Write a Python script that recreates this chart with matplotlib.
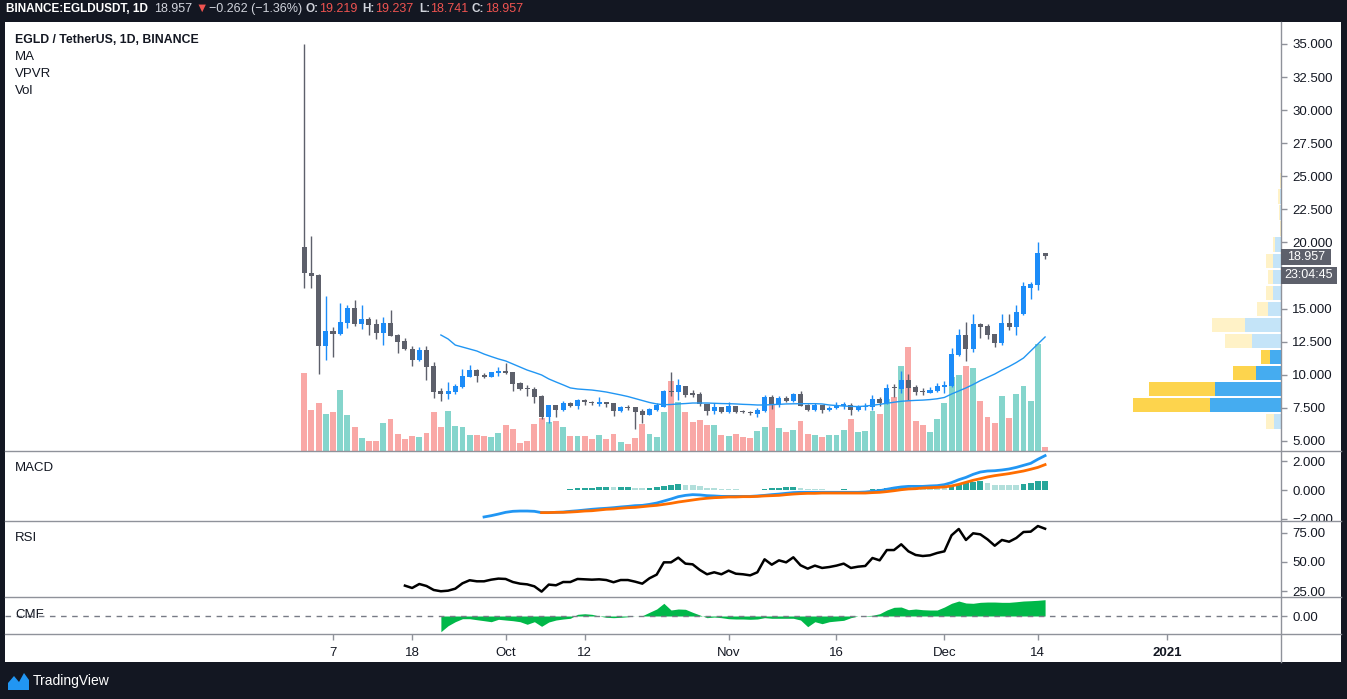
import matplotlib
matplotlib.use('Agg')
import matplotlib.pyplot as plt
from matplotlib.patches import Rectangle, Polygon
from matplotlib.lines import Line2D
from matplotlib.transforms import Bbox, TransformedBbox
import numpy as np
import pandas as pd

W, H = 1347, 699

# ---- data ----
start_date = pd.Timestamp('2020-09-03')

opens = [19.64, 17.72, 17.54, 12.18, 13.31, 13.11, 13.94, 15.05, 13.86, 14.22,
         13.84, 13.18, 13.92, 13.01, 12.55, 11.95, 11.12, 11.88, 10.67, 8.78,
         8.57, 8.70, 9.08, 9.84, 10.36, 10.01, 9.84, 10.14, 10.27, 10.21,
         9.38, 9.00, 8.93, 8.40, 6.84, 7.72, 7.34, 7.87, 7.67, 8.10,
         7.97, 7.83, 7.92, 7.87, 7.27, 7.57, 7.55, 7.29, 6.96, 7.34,
         7.59, 8.80, 8.68, 9.16, 8.60, 8.57, 7.82, 7.27, 7.57, 7.21,
         7.67, 7.29, 7.21, 7.04, 7.27, 8.32, 7.72, 8.27, 8.02, 8.57,
         7.74, 7.34, 7.70, 7.34, 7.49, 7.62, 7.74, 7.34, 7.57, 7.55,
         8.17, 7.85, 9.10, 8.95, 9.61, 9.10, 8.78, 8.65, 8.80, 9.10,
         9.18, 11.52, 13.01, 11.97, 13.84, 13.69, 13.08, 12.42, 13.92, 13.61,
         14.60, 16.58, 16.81, 19.219]
highs = [35.00, 20.49, 17.62, 15.96, 13.61, 15.45, 15.28, 15.65, 15.28, 14.35,
         14.22, 14.35, 14.90, 13.05, 12.76, 12.18, 12.08, 12.18, 10.97, 9.00,
         9.46, 9.30, 10.44, 10.77, 10.44, 10.16, 10.25, 10.59, 10.90, 10.21,
         9.46, 9.23, 9.08, 8.45, 7.72, 7.75, 8.04, 7.97, 8.17, 8.17,
         8.04, 8.35, 7.92, 7.87, 7.62, 7.72, 7.55, 7.44, 7.52, 7.89,
         8.85, 10.21, 9.66, 9.16, 8.85, 8.70, 7.82, 7.85, 7.57, 7.95,
         7.67, 7.34, 7.26, 7.47, 8.48, 8.48, 8.40, 8.40, 8.65, 8.78,
         7.77, 7.84, 7.72, 7.64, 7.95, 7.95, 7.89, 7.72, 7.89, 8.48,
         8.32, 9.31, 9.31, 10.31, 10.06, 9.20, 9.00, 9.08, 9.36, 9.50,
         12.00, 13.46, 13.99, 14.60, 13.92, 13.86, 13.10, 14.58, 14.58, 15.28,
         17.04, 17.04, 20.04, 19.237]
lows = [16.59, 16.59, 10.06, 11.12, 11.37, 13.00, 13.56, 13.69, 13.46, 13.01,
        12.71, 12.25, 12.90, 11.67, 11.90, 10.67, 11.05, 9.61, 8.27, 8.04,
        8.20, 8.57, 9.00, 9.80, 9.46, 9.76, 9.80, 9.93, 10.10, 8.78,
        8.85, 8.40, 7.89, 6.69, 6.38, 6.84, 7.29, 7.59, 7.39, 7.70,
        7.75, 7.67, 7.60, 6.91, 7.18, 7.34, 5.88, 6.38, 6.96, 7.29,
        7.59, 8.42, 8.10, 8.35, 8.32, 7.64, 6.99, 7.04, 7.09, 7.09,
        7.13, 7.09, 6.99, 6.84, 7.20, 7.44, 7.59, 7.92, 7.92, 7.64,
        7.30, 7.30, 7.09, 7.27, 7.39, 7.40, 7.00, 7.30, 7.34, 7.34,
        7.62, 7.80, 8.35, 8.60, 8.10, 8.50, 8.50, 8.60, 8.70, 8.60,
        9.10, 11.40, 11.07, 11.75, 12.80, 12.71, 12.12, 12.27, 13.39, 13.01,
        14.50, 15.73, 16.41, 18.741]
closes = [17.67, 17.49, 12.18, 13.31, 13.11, 13.99, 15.05, 13.86, 14.22, 13.77,
          13.18, 13.92, 12.93, 12.48, 11.95, 11.12, 11.88, 10.59, 8.70, 8.57,
          8.78, 9.16, 9.91, 10.36, 9.91, 9.84, 10.21, 10.27, 10.14, 9.31,
          8.93, 8.93, 8.35, 6.84, 7.70, 7.34, 7.87, 7.67, 8.10, 7.92,
          7.85, 7.97, 7.77, 7.29, 7.57, 7.50, 7.21, 6.99, 7.44, 7.70,
          8.80, 8.72, 9.23, 8.48, 8.45, 7.77, 7.29, 7.57, 7.21, 7.67,
          7.21, 7.16, 7.09, 7.34, 8.35, 7.77, 8.23, 8.02, 8.57, 7.67,
          7.34, 7.74, 7.34, 7.52, 7.72, 7.82, 7.34, 7.59, 7.64, 8.17,
          7.85, 9.00, 9.00, 9.61, 9.03, 8.70, 8.68, 8.85, 9.18, 9.26,
          11.57, 13.01, 11.97, 13.84, 13.61, 13.00, 12.42, 13.92, 13.61, 14.75,
          16.71, 16.86, 19.23, 18.957]
volumes = [78, 41, 48, 37, 39, 61, 36, 24, 13, 10,
           10, 28, 32, 17, 12, 15, 14, 18, 39, 24,
           40, 25, 24, 16, 16, 15, 14, 18, 26, 22,
           8, 10, 27, 33, 29, 30, 24, 15, 15, 15,
           12, 16, 12, 17, 9, 7, 13, 27, 17, 14,
           39, 70, 49, 39, 29, 31, 26, 26, 16, 15,
           17, 14, 13, 20, 24, 47, 23, 19, 21, 30,
           17, 16, 14, 16, 16, 21, 32, 19, 20, 40,
           37, 52, 54, 85, 104, 30, 26, 19, 32, 48,
           74, 76, 85, 83, 50, 34, 28, 55, 33, 57,
           65, 50, 107, 4]

ma_start = 19
ma20 = [13.01, 12.71, 12.25, 12.10, 11.95, 11.80, 11.57, 11.38, 11.20, 11.05,
        10.82, 10.59, 10.36, 10.18, 9.99, 9.69, 9.46, 9.24, 9.01, 8.93,
        8.89, 8.85, 8.78, 8.70, 8.59, 8.48, 8.36, 8.21, 8.06, 7.91,
        7.80, 7.74, 7.76, 7.80, 7.83, 7.87, 7.87, 7.87, 7.85, 7.83,
        7.82, 7.80, 7.77, 7.75, 7.72, 7.72, 7.75, 7.77, 7.80, 7.81,
        7.82, 7.82, 7.82, 7.80, 7.72, 7.68, 7.64, 7.62, 7.60, 7.64,
        7.70, 7.77, 7.85, 7.93, 8.00, 8.04, 8.07, 8.09, 8.13, 8.19,
        8.29, 8.55, 8.78, 9.01, 9.27, 9.56, 9.81, 10.06, 10.36, 10.63,
        10.93, 11.27, 11.80, 12.33, 12.86]

macd_start = 25
macd_line = [-1.86, -1.77, -1.66, -1.54, -1.47, -1.45, -1.45, -1.47,
             -1.56, -1.56, -1.54, -1.52, -1.47, -1.43, -1.38, -1.33, -1.29, -1.26,
             -1.22, -1.17, -1.13, -1.08, -1.06, -0.99, -0.90, -0.76, -0.62, -0.46,
             -0.37, -0.32, -0.34, -0.39, -0.41, -0.44, -0.44, -0.44, -0.44, -0.44,
             -0.41, -0.37, -0.32, -0.28, -0.23, -0.18, -0.16, -0.16, -0.16, -0.16,
             -0.16, -0.16, -0.16, -0.16, -0.16, -0.14, -0.09, -0.05, 0.05, 0.14,
             0.21, 0.25, 0.25, 0.25, 0.28, 0.30, 0.37, 0.51, 0.71, 0.87,
             1.08, 1.24, 1.31, 1.33, 1.38, 1.45, 1.56, 1.70, 1.84, 2.12, 2.37]
signal_start = 33
signal_line = [-1.56, -1.56, -1.54, -1.54, -1.52, -1.49, -1.45, -1.43, -1.38, -1.33,
               -1.31, -1.26, -1.22, -1.20, -1.15, -1.10, -1.06, -0.99, -0.92, -0.83,
               -0.76, -0.69, -0.62, -0.57, -0.53, -0.51, -0.48, -0.48, -0.46, -0.46,
               -0.44, -0.41, -0.39, -0.37, -0.32, -0.28, -0.25, -0.23, -0.23, -0.21,
               -0.21, -0.21, -0.21, -0.21, -0.21, -0.21, -0.18, -0.16, -0.11, -0.05,
               0.02, 0.07, 0.09, 0.14, 0.16, 0.18, 0.21, 0.28, 0.39, 0.53,
               0.67, 0.78, 0.90, 0.99, 1.06, 1.13, 1.22, 1.31, 1.43, 1.56, 1.75]
macd_hist = [0.01, -0.01, -0.01, 0.02, 0.09, 0.16, 0.16, 0.16, 0.23, 0.23,
             0.22, 0.23, 0.23, 0.16, 0.15, 0.17, 0.23, 0.30, 0.37, 0.38,
             0.37, 0.36, 0.30, 0.16, 0.15, 0.09, 0.08, 0.07, 0.03, 0.02,
             0.03, 0.09, 0.16, 0.17, 0.18, 0.23, 0.16, 0.09, 0.08, 0.07,
             0.02, 0.03, 0.09, 0.03, 0.02, 0.03, 0.09, 0.10, 0.16, 0.23,
             0.24, 0.23, 0.22, 0.16, 0.15, 0.14, 0.13, 0.37, 0.44, 0.51,
             0.58, 0.59, 0.51, 0.37, 0.36, 0.35, 0.34, 0.44, 0.51, 0.64,
             0.65]

rsi_start = 14
rsi = [29.8, 27.8, 31.2, 29.5, 26.1, 25.0, 25.5, 27.2, 31.8, 34.4,
       33.5, 33.5, 34.9, 35.8, 35.5, 32.9, 31.5, 30.9, 29.2, 24.7,
       30.7, 30.1, 32.9, 32.9, 35.5, 35.2, 34.9, 35.2, 34.6, 32.7,
       34.6, 34.6, 33.2, 31.5, 36.1, 39.2, 49.7, 49.7, 53.7, 48.6,
       48.0, 43.2, 39.5, 41.2, 39.5, 42.6, 40.0, 39.5, 38.6, 41.2,
       52.3, 47.7, 51.4, 49.7, 54.0, 47.2, 44.3, 46.9, 44.9, 45.7,
       46.9, 48.6, 44.9, 46.0, 46.6, 53.4, 51.4, 60.2, 60.2, 65.1,
       59.1, 56.0, 55.1, 55.7, 57.7, 59.1, 72.8, 78.2, 68.8, 74.5,
       73.6, 69.3, 63.9, 68.8, 67.3, 70.5, 75.6, 75.9, 80.7, 78.4]

cmf_start = 19
cmf = [-0.262, -0.162, -0.095, -0.045, -0.045, -0.062, -0.078, -0.095, -0.055, -0.067,
       -0.078, -0.095, -0.138, -0.095, -0.172, -0.100, -0.067, -0.050, -0.038, 0.028,
       0.038, 0.028, 0.000, -0.022, -0.028, -0.022, -0.012, 0.000, 0.005, 0.062,
       0.117, 0.212, 0.100, 0.117, 0.112, 0.062, 0.017, -0.028, -0.017, -0.028,
       -0.045, -0.050, -0.050, -0.055, -0.050, -0.028, -0.038, -0.038, -0.038, -0.038,
       -0.067, -0.178, -0.095, -0.128, -0.095, -0.083, -0.072, -0.028, 0.000, 0.005,
       0.012, 0.038, 0.100, 0.145, 0.150, 0.105, 0.117, 0.105, 0.100, 0.100,
       0.150, 0.212, 0.250, 0.217, 0.212, 0.228, 0.233, 0.233, 0.228, 0.228,
       0.238, 0.250, 0.255, 0.262, 0.272]

# volume profile, 24 rows from low to high of the visible range
vpvr_lo, vpvr_hi = 5.88, 35.0
vpvr_up = [7.3, 71.3, 66.3, 25.3, 11.3, 29.3, 36.3, 13.3, 8.3, 8.3, 7.7, 6.3,
           0.3, 1.3, 1.3, 0.3, 0.2, 0.2, 0.2, 0.2, 0.2, 0.1, 0.1, 0.1]
vpvr_down = [8.0, 77.0, 66.0, 23.0, 9.0, 27.0, 33.0, 11.0, 7.0, 5.0, 7.7, 2.0,
             1.0, 0.7, 2.0, 1.0, 0.2, 0.2, 0.2, 0.1, 0.1, 0.1, 0.1, 0.1]
vpvr_value_area = [False, True, True, True, True] + [False] * 19

tick_dates = ['2020-09-07', '2020-09-18', '2020-10-01', '2020-10-12', '2020-11-01',
              '2020-11-16', '2020-12-01', '2020-12-14', '2021-01-01']
tick_labels = ['7', '18', 'Oct', '12', 'Nov', '16', 'Dec', '14', '2021']

# 17.500 sits under the countdown label in the original, so it is left out
price_ticks = [5, 7.5, 10, 12.5, 15, 20, 22.5, 25, 27.5, 30, 32.5, 35]

# ---- style ----
BG = '#131722'
SEP = '#8f929a'
UP, DOWN = '#1c8cf8', '#5d606b'
VUP, VDOWN = '#85d5cc', '#f9a8a6'
TXT = '#131722'

plt.rcParams['font.family'] = ['Liberation Sans', 'DejaVu Sans']

fig = plt.figure(figsize=(W / 100, H / 100), dpi=100, facecolor=BG)


def fx(px):
    return px / W


def fy(py):
    return 1 - py / H


def pane(top, bottom):
    return [fx(5), fy(bottom), fx(1281) - fx(5), (bottom - top) / H]


fig.add_artist(Rectangle((fx(5), fy(662)), fx(1341) - fx(5), (662 - 22) / H,
                         transform=fig.transFigure, facecolor='white',
                         edgecolor='none', zorder=-5))

x = np.arange(len(opens))
o, hi, lo, c = map(np.array, (opens, highs, lows, closes))
up = c >= o
ccol = np.where(up, UP, DOWN)
vcol = np.where(up, VUP, VDOWN)
xlim = (-41.6, 135.8)

# price pane with volume underneath
ax_vol = fig.add_axes(pane(22, 451))
ax_vol.bar(x, volumes, width=0.82, color=vcol, linewidth=0)
ax_vol.set_ylim(0, max(volumes) * 4.0)
ax_vol.set_xlim(*xlim)
ax_vol.set_facecolor('none')

ax = ax_vol.twinx()
ax.vlines(x, lo, hi, colors=ccol, lw=1.0, zorder=3)
ax.bar(x, np.maximum(np.abs(c - o), 0.08), bottom=np.minimum(o, c), width=0.7,
       color=ccol, linewidth=0, zorder=4)
ax.plot(np.arange(ma_start, ma_start + len(ma20)), ma20, color='#2196f3', lw=1.0, zorder=5)
ax.set_ylim(4.244, 36.662)
ax.set_yticks(price_ticks)
ax.set_yticklabels(['%.3f' % t for t in price_ticks])

# volume profile on the right
axp = ax.twiny()
rows = len(vpvr_up)
rh = (vpvr_hi - vpvr_lo) / rows
ys = vpvr_lo + rh * (np.arange(rows) + 0.5)
vu, vd = np.array(vpvr_up), np.array(vpvr_down)
va = np.array(vpvr_value_area)
axp.barh(ys, vu, height=rh * 0.9, left=0, linewidth=0,
         color=np.where(va, '#45acf0', '#c4e4f8'))
axp.barh(ys, vd, height=rh * 0.9, left=vu, linewidth=0,
         color=np.where(va, '#fdd44d', '#fff2c7'))
axp.set_xlim((vu + vd).max() / 0.1163, 0)
axp.set_xticks([])

# MACD
ax_m = fig.add_axes(pane(451, 521), sharex=ax_vol)
hx = np.arange(signal_start, signal_start + len(macd_hist))
hv = np.array(macd_hist)
prev = np.concatenate([[0], hv[:-1]])
hcol = np.where(hv >= 0, np.where(hv >= prev, '#26a69a', '#b2dfdb'),
                np.where(hv < prev, '#ff5252', '#ffcdd2'))
ax_m.bar(hx, hv, width=0.8, color=hcol, linewidth=0)
ax_m.plot(np.arange(macd_start, macd_start + len(macd_line)), macd_line, color='#2196f3', lw=2)
ax_m.plot(np.arange(signal_start, signal_start + len(signal_line)), signal_line, color='#ff6d00', lw=2)
ax_m.set_ylim(-2.138, 2.690)
ax_m.set_yticks([-2, 0, 2])
ax_m.set_yticklabels(['\u22122.000', '0.000', '2.000'])

# RSI
ax_r = fig.add_axes(pane(521, 597), sharex=ax_vol)
ax_r.plot(np.arange(rsi_start, rsi_start + len(rsi)), rsi, color='black', lw=1.8)
ax_r.set_ylim(20.1, 85.0)
ax_r.set_yticks([25, 50, 75])
ax_r.set_yticklabels(['25.00', '50.00', '75.00'])

# CMF
ax_c = fig.add_axes(pane(597, 634), sharex=ax_vol)
cx = np.arange(cmf_start, cmf_start + len(cmf))
ax_c.fill_between(cx, 0, cmf, color='#00b849', linewidth=0)
ax_c.axhline(0, color='#787b86', lw=1, ls=(0, (4, 4)))
ax_c.set_ylim(-0.30, 0.317)
ax_c.set_yticks([0])
ax_c.set_yticklabels(['0.00'])
tick_pos = [(pd.Timestamp(d) - start_date).days for d in tick_dates]
ax_c.set_xticks(tick_pos)
ax_c.set_xticklabels(tick_labels)
for lab in ax_c.get_xticklabels():
    if lab.get_text() == '2021':
        lab.set_fontweight('bold')

for a in (ax_vol, ax, axp, ax_m, ax_r, ax_c):
    for s in a.spines.values():
        s.set_visible(False)
ax_vol.set_yticks([])
ax_vol.tick_params(axis='x', bottom=False, labelbottom=False)
for a in (ax_m, ax_r):
    a.tick_params(axis='x', bottom=False, labelbottom=False)
for a in (ax, ax_m, ax_r, ax_c):
    a.yaxis.tick_right()
    a.tick_params(axis='y', length=4, width=1, color=SEP, labelcolor=TXT,
                  labelsize=9.5, pad=4, direction='out')
    a.set_facecolor('none')
ax_c.tick_params(axis='x', length=4, width=1, color=SEP, labelcolor=TXT,
                 labelsize=9.5, pad=5, direction='out')

# clip the bottom MACD label at the pane edge like the original
clip = TransformedBbox(Bbox.from_extents(fx(1281), fy(521), fx(1341), fy(451)), fig.transFigure)
for lab in ax_m.get_yticklabels():
    lab.set_clip_box(clip)
    lab.set_clip_on(True)

# pane separators and axis line
for yy in (451, 521, 597, 634):
    fig.add_artist(Line2D([fx(5), fx(1341)], [fy(yy), fy(yy)], transform=fig.transFigure,
                          color=SEP, lw=1, zorder=10))
fig.add_artist(Line2D([fx(1281), fx(1281)], [fy(22), fy(662)], transform=fig.transFigure,
                      color=SEP, lw=1, zorder=10))

# last price and countdown labels
fig.add_artist(Rectangle((fx(1281), fy(265)), fx(1331) - fx(1281), 16 / H,
                         transform=fig.transFigure, facecolor='#5d606b', edgecolor='none', zorder=11))
fig.text(fx(1306), fy(257), '18.957', color='white', fontsize=9, ha='center', va='center', zorder=12)
fig.add_artist(Rectangle((fx(1281), fy(284)), fx(1337) - fx(1281), 17 / H,
                         transform=fig.transFigure, facecolor='#5d606b', edgecolor='none', zorder=11))
fig.text(fx(1309), fy(275.5), '23:04:45', color='white', fontsize=9, ha='center', va='center', zorder=12)

# legend and pane titles
fig.text(fx(15), fy(40), 'EGLD / TetherUS, 1D, BINANCE', color=TXT, fontsize=8.8,
         fontweight='bold', va='center')
for lbl, yy in (('MA', 57), ('VPVR', 74), ('Vol', 91), ('MACD', 468), ('RSI', 538), ('CMF', 615)):
    fig.text(fx(15), fy(yy), lbl, color=TXT, fontsize=9.5, va='center')

# header line
hdr_y = fy(9)
RED = '#ef5350'
WHITE = '#d1d4dc'
for txt, px, col, wt, fs in (('BINANCE:EGLDUSDT, 1D', 6, 'white', 'bold', 8.5),
                             ('18.957', 154, WHITE, 'normal', 9),
                             ('\u25bc', 195, RED, 'normal', 9),
                             ('\u22120.262 (\u22121.36%)', 209, WHITE, 'normal', 9),
                             ('O:', 306, WHITE, 'bold', 8.5), ('19.219', 319, RED, 'normal', 9),
                             ('H:', 362, WHITE, 'bold', 8.5), ('19.237', 375, RED, 'normal', 9),
                             ('L:', 419, WHITE, 'bold', 8.5), ('18.741', 430, RED, 'normal', 9),
                             ('C:', 472, WHITE, 'bold', 8.5), ('18.957', 485, RED, 'normal', 9)):
    fig.text(fx(px), hdr_y, txt, color=col, fontsize=fs, fontweight=wt, va='center')

# TradingView mark at the bottom
logo = [(8, 690), (8, 683), (14, 676), (19, 682), (24, 673), (29, 680), (29, 690)]
fig.add_artist(Polygon([(fx(a), fy(b)) for a, b in logo], closed=True, transform=fig.transFigure,
                       facecolor='#2196f3', edgecolor='none'))
fig.text(fx(33), fy(681), 'TradingView', color='white', fontsize=10, va='center')

fig.savefig('out.png', dpi=100, facecolor=BG)
